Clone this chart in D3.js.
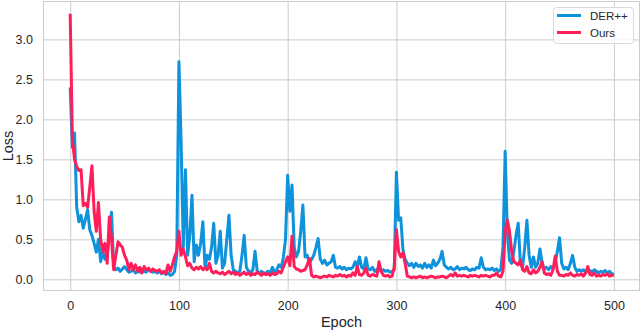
<!DOCTYPE html>
<html>
<head>
<meta charset="utf-8">
<script src="https://cdn.jsdelivr.net/npm/d3@7"></script>
<style>
  body { margin: 0; background: #fff; }
  #chart text { font-family: "Liberation Sans", Arial, sans-serif; fill: #262626; }
</style>
</head>
<body>
<div id="chart"></div>
<script>
// epochs sampled every 2 epochs (0..500)
var epochs = d3.range(0, 501, 2);

// DER++ loss
var derpp = [
  2.40, 1.65, 1.83, 0.90, 0.72, 0.80, 0.64, 0.75, 0.87, 0.62,
  0.55, 0.45, 0.34, 0.50, 0.22, 0.34, 0.25, 0.30, 0.55, 0.84,
  0.15, 0.12, 0.14, 0.10, 0.13, 0.16, 0.12, 0.09, 0.10, 0.12,
  0.08, 0.10, 0.09, 0.12, 0.10, 0.09, 0.13, 0.10, 0.09, 0.10,
  0.08, 0.10, 0.07, 0.09, 0.06, 0.08, 0.05, 0.06, 0.10, 0.30,
  2.72, 1.72, 0.40, 1.37, 0.30, 0.55, 1.05, 0.22, 0.43, 0.30,
  0.45, 0.72, 0.14, 0.30, 0.25, 0.40, 0.70, 0.20, 0.30, 0.60,
  0.14, 0.20, 0.50, 0.80, 0.30, 0.12, 0.10, 0.08, 0.10, 0.30,
  0.55, 0.15, 0.10, 0.09, 0.12, 0.35, 0.10, 0.08, 0.10, 0.07,
  0.08, 0.10, 0.08, 0.15, 0.08, 0.12, 0.18, 0.15, 0.27, 0.50,
  1.30, 0.85, 1.18, 0.40, 0.28, 0.35, 0.60, 0.93, 0.28, 0.30,
  0.20, 0.25, 0.30, 0.40, 0.51, 0.25, 0.20, 0.24, 0.18, 0.20,
  0.22, 0.30, 0.15, 0.14, 0.16, 0.13, 0.15, 0.12, 0.14, 0.13,
  0.15, 0.22, 0.15, 0.28, 0.15, 0.13, 0.27, 0.13, 0.12, 0.15,
  0.10, 0.12, 0.14, 0.10, 0.12, 0.10, 0.11, 0.09, 0.10, 0.12,
  1.34, 0.74, 0.77, 0.37, 0.25, 0.20, 0.17, 0.20, 0.15, 0.20,
  0.16, 0.18, 0.14, 0.20, 0.15, 0.18, 0.14, 0.24, 0.17, 0.20,
  0.25, 0.35, 0.18, 0.15, 0.13, 0.15, 0.12, 0.13, 0.16, 0.12,
  0.14, 0.13, 0.15, 0.12, 0.11, 0.13, 0.12, 0.15, 0.14, 0.27,
  0.15, 0.12, 0.13, 0.12, 0.14, 0.11, 0.13, 0.10, 0.12, 0.40,
  1.60, 0.58, 0.24, 0.20, 0.35, 0.55, 0.70, 0.20, 0.15, 0.40,
  0.74, 0.30, 0.15, 0.28, 0.15, 0.20, 0.38, 0.20, 0.13, 0.15,
  0.12, 0.16, 0.13, 0.20, 0.35, 0.52, 0.20, 0.13, 0.15, 0.12,
  0.20, 0.30, 0.15, 0.10, 0.12, 0.10, 0.12, 0.09, 0.10, 0.11,
  0.09, 0.12, 0.10, 0.08, 0.10, 0.09, 0.11, 0.08, 0.10, 0.07,
  0.06
];

// Ours loss
var ours = [
  3.32, 1.75, 1.50, 1.41, 1.36, 1.37, 0.92, 0.95, 0.90, 1.15,
  1.42, 0.85, 0.60, 0.96, 0.50, 0.35, 0.45, 0.20, 0.78, 0.50,
  0.12, 0.30, 0.47, 0.43, 0.40, 0.30, 0.24, 0.12, 0.20, 0.12,
  0.18, 0.10, 0.15, 0.08, 0.16, 0.12, 0.14, 0.10, 0.13, 0.11,
  0.10, 0.12, 0.08, 0.10, 0.07, 0.18, 0.10, 0.18, 0.28, 0.35,
  0.60, 0.30, 0.38, 0.28, 0.17, 0.20, 0.14, 0.12, 0.15, 0.13,
  0.16, 0.12, 0.14, 0.12, 0.20, 0.10, 0.08, 0.10, 0.08, 0.07,
  0.09, 0.06, 0.08, 0.10, 0.07, 0.09, 0.06, 0.08, 0.05, 0.07,
  0.09, 0.06, 0.08, 0.05, 0.07, 0.06, 0.09, 0.07, 0.05, 0.08,
  0.06, 0.07, 0.05, 0.08, 0.06, 0.07, 0.10, 0.08, 0.15, 0.22,
  0.28, 0.17, 0.54, 0.16, 0.13, 0.12, 0.10, 0.11, 0.12, 0.18,
  0.26, 0.05, 0.03, 0.04, 0.03, 0.02, 0.03, 0.04, 0.03, 0.05,
  0.04, 0.03, 0.05, 0.04, 0.06, 0.04, 0.05, 0.03, 0.05, 0.04,
  0.08, 0.05, 0.16, 0.06, 0.05, 0.08, 0.14, 0.05, 0.04, 0.06,
  0.05, 0.04, 0.22, 0.10, 0.05, 0.04, 0.05, 0.03, 0.04, 0.15,
  0.62, 0.35, 0.28, 0.33, 0.20, 0.04, 0.03, 0.02, 0.03, 0.02,
  0.03, 0.04, 0.02, 0.03, 0.02, 0.03, 0.04, 0.03, 0.02, 0.03,
  0.03, 0.04, 0.03, 0.02, 0.04, 0.06, 0.04, 0.08, 0.04, 0.05,
  0.04, 0.05, 0.04, 0.03, 0.05, 0.04, 0.05, 0.04, 0.03, 0.05,
  0.04, 0.05, 0.04, 0.03, 0.05, 0.05, 0.08, 0.04, 0.03, 0.10,
  0.60, 0.74, 0.60, 0.35, 0.22, 0.20, 0.18, 0.24, 0.12, 0.10,
  0.16, 0.08, 0.07, 0.12, 0.08, 0.10, 0.15, 0.22, 0.08, 0.06,
  0.07, 0.05, 0.12, 0.29, 0.10, 0.05, 0.05, 0.04, 0.06, 0.05,
  0.08, 0.05, 0.04, 0.06, 0.05, 0.07, 0.04, 0.08, 0.16, 0.06,
  0.05, 0.08, 0.04, 0.05, 0.04, 0.06, 0.05, 0.07, 0.04, 0.05,
  0.05
];

var xTicks = [0, 100, 200, 300, 400, 500];
var yTicks = [0.0, 0.5, 1.0, 1.5, 2.0, 2.5, 3.0];
var seriesNames = ["DER++", "Ours"];
var seriesColors = ["#0d92db", "#ff1e5a"];

var W = 640, H = 330;
var margin = {top: 1, right: 0, bottom: 39, left: 43};
var width = W - margin.left - margin.right,
    height = H - margin.top - margin.bottom;

var svg = d3.select("#chart")
  .append("svg")
    .attr("width", W)
    .attr("height", H)
  .append("g")
    .attr("transform", "translate(" + margin.left + "," + margin.top + ")");

var x = d3.scaleLinear().domain([-25, 524]).range([0, width]);
var y = d3.scaleLinear().domain([-0.146, 3.48]).range([height, 0]);

// x grid + labels
var xAxis = svg.append("g")
  .attr("transform", "translate(0," + height + ")")
  .call(d3.axisBottom(x).tickValues(xTicks).tickSize(-height).tickPadding(10).tickFormat(d3.format("d")));
xAxis.select(".domain").remove();
xAxis.selectAll("line").attr("stroke", "#cccccc");
xAxis.selectAll("text").style("font-size", "12.5px");

// y grid + labels
var yAxis = svg.append("g")
  .call(d3.axisLeft(y).tickValues(yTicks).tickSize(-width).tickPadding(10).tickFormat(d3.format(".1f")));
yAxis.select(".domain").remove();
yAxis.selectAll("line").attr("stroke", "#cccccc");
yAxis.selectAll("text").style("font-size", "12.5px");

// frame
svg.append("rect")
  .attr("x", 0.5).attr("y", 0.5)
  .attr("width", width - 1).attr("height", height - 1)
  .attr("fill", "none").attr("stroke", "#cccccc");

var line = d3.line()
  .x(function (d, i) { return x(epochs[i]); })
  .y(function (d) { return y(d); });

[derpp, ours].forEach(function (s, k) {
  svg.append("path")
    .datum(s)
    .attr("fill", "none")
    .attr("stroke", seriesColors[k])
    .attr("stroke-width", 3)
    .attr("stroke-linejoin", "round")
    .attr("d", line);
});

// axis titles
svg.append("text")
  .attr("x", width / 2).attr("y", height + 36)
  .attr("text-anchor", "middle")
  .style("font-size", "14.5px")
  .text("Epoch");
svg.append("text")
  .attr("transform", "translate(" + (-30) + "," + (height / 2) + ") rotate(-90)")
  .attr("text-anchor", "middle")
  .style("font-size", "14.5px")
  .text("Loss");

// legend
var lg = svg.append("g").attr("transform", "translate(" + (553 - margin.left) + "," + (7 - margin.top) + ")");
lg.append("rect")
  .attr("x", 0.5).attr("y", 0.5).attr("width", 80).attr("height", 36).attr("rx", 3)
  .attr("fill", "#fff").attr("fill-opacity", 0.8).attr("stroke", "#d8d8d8");
seriesNames.forEach(function (n, k) {
  var yy = 8.5 + k * 17;
  lg.append("line")
    .attr("x1", 4).attr("x2", 28).attr("y1", yy).attr("y2", yy)
    .attr("stroke", seriesColors[k]).attr("stroke-width", 3);
  lg.append("text")
    .attr("x", 37).attr("y", yy).attr("dy", "0.35em")
    .style("font-size", "11.5px")
    .text(n);
});
</script>
</body>
</html>
